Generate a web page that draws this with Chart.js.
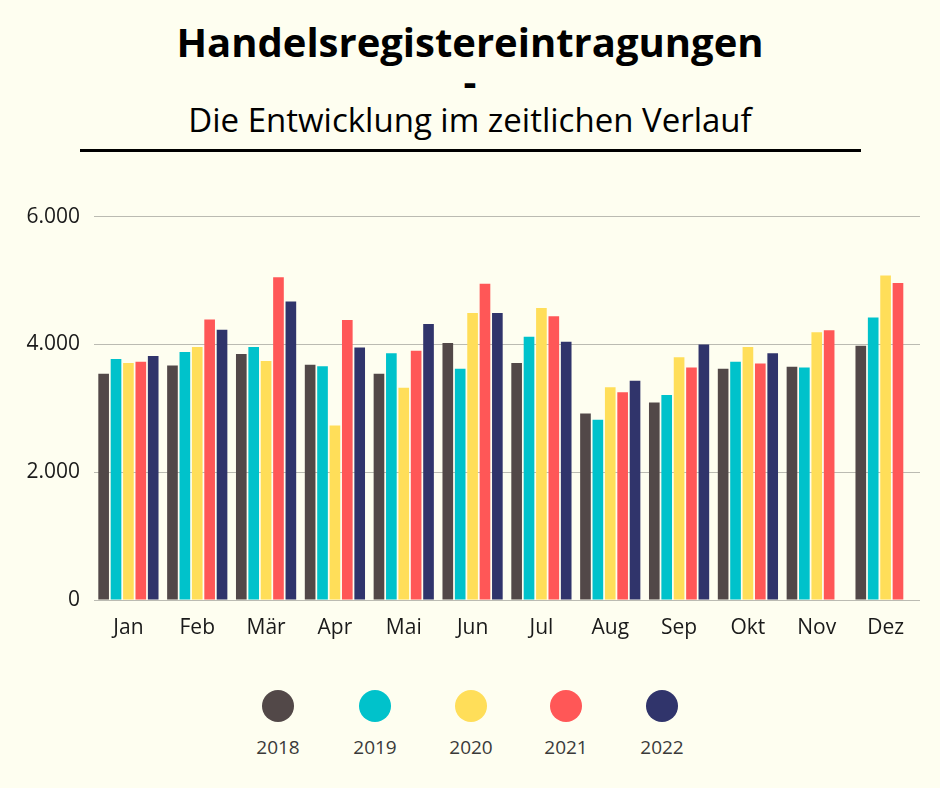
<!DOCTYPE html>
<html lang="de">
<head>
<meta charset="utf-8">
<title>Handelsregistereintragungen</title>
<script src="https://cdn.jsdelivr.net/npm/chart.js@4.4.1/dist/chart.umd.min.js"></script>
<style>
    body {
        margin: 0;
        background: #fefef0;
        font-family: "Open Sans", sans-serif;
        width: 940px;
        height: 788px;
        position: relative;
        overflow: hidden;
    }
    #head {
        position: absolute;
        left: 0;
        top: 0;
        width: 940px;
        text-align: center;
        color: #000;
    }
    #head .t1 {
        position: absolute;
        left: 0; width: 940px;
        top: 17px;
        font-size: 40px;
        font-weight: 700;
        line-height: 50px;
    }
    #head .t2 {
        position: absolute;
        left: 0; width: 940px;
        top: 61px;
        font-size: 40px;
        font-weight: 700;
        line-height: 40px;
    }
    #head .t3 {
        position: absolute;
        left: 0; width: 940px;
        top: 99px;
        font-size: 33px;
        line-height: 42px;
    }
    #rule {
        position: absolute;
        left: 80px;
        top: 149px;
        width: 781px;
        height: 3px;
        background: #000;
    }
    #wrap {
        position: absolute;
        left: 0;
        top: 190px;
        width: 940px;
        height: 470px;
    }
    #legend .item {
        position: absolute;
        width: 80px;
        text-align: center;
    }
    #legend .dot {
        width: 32px;
        height: 32px;
        border-radius: 50%;
        margin: 0 auto;
    }
    #legend .lbl {
        margin-top: 13px;
        font-size: 19px;
        color: #3a3a3a;
        line-height: 24px;
    }
</style>
</head>
<body>
<div id="head">
    <div class="t1">Handelsregistereintragungen</div>
    <div class="t2">-</div>
    <div class="t3">Die Entwicklung im zeitlichen Verlauf</div>
</div>
<div id="rule"></div>
<div id="wrap"><canvas id="regChart"></canvas></div>
<div id="legend"></div>

<script>
const months = ['Jan', 'Feb', 'Mär', 'Apr', 'Mai', 'Jun', 'Jul', 'Aug', 'Sep', 'Okt', 'Nov', 'Dez'];
const years = ['2018', '2019', '2020', '2021', '2022'];
const colors = ['#524848', '#00c2cb', '#ffde59', '#ff5757', '#30346b'];

const values2018 = [3540, 3670, 3850, 3680, 3540, 4020, 3710, 2920, 3090, 3620, 3650, 3980];
const values2019 = [3770, 3880, 3960, 3660, 3860, 3620, 4120, 2820, 3210, 3730, 3640, 4420];
const values2020 = [3710, 3960, 3740, 2730, 3320, 4490, 4570, 3330, 3800, 3960, 4190, 5080];
const values2021 = [3730, 4390, 5050, 4380, 3900, 4950, 4440, 3250, 3640, 3700, 4220, 4960];
const values2022 = [3820, 4230, 4670, 3950, 4320, 4490, 4040, 3430, 4000, 3860, null, null];

const yTicks = [0, 2000, 4000, 6000];

const allValues = [values2018, values2019, values2020, values2021, values2022];

const ctx = document.getElementById('regChart').getContext('2d');
const regChart = new Chart(ctx, {
    type: 'bar',
    data: {
        labels: months,
        datasets: years.map((y, i) => ({
            label: y,
            data: allValues[i],
            backgroundColor: colors[i],
            borderWidth: 0,
            barPercentage: 0.86,
            categoryPercentage: 0.9
        }))
    },
    options: {
        responsive: true,
        maintainAspectRatio: false,
        animation: false,
        locale: 'de-DE',
        layout: {
            padding: { top: 26, right: 20, bottom: 0, left: 0 }
        },
        plugins: {
            legend: { display: false },
            tooltip: { enabled: false }
        },
        scales: {
            x: {
                afterFit: scale => { scale.height = 60; },
                grid: { display: false, drawTicks: false },
                border: { display: false },
                ticks: {
                    color: '#1a1a1a',
                    font: { family: 'Open Sans', size: 21 },
                    padding: 15,
                    maxRotation: 0
                }
            },
            y: {
                min: yTicks[0],
                max: yTicks[yTicks.length - 1],
                afterFit: scale => { scale.width = 94; },
                afterBuildTicks: scale => {
                    scale.ticks = yTicks.map(v => ({ value: v }));
                },
                grid: {
                    color: '#bbbbb2',
                    lineWidth: 1,
                    drawTicks: false
                },
                border: { display: false },
                ticks: {
                    color: '#1a1a1a',
                    font: { family: 'Open Sans', size: 21 },
                    padding: 14,
                    callback: v => v.toLocaleString('de-DE')
                }
            }
        }
    }
});

// legend with dots above the year labels
const legend = document.getElementById('legend');
const legendX = [278, 375, 471, 566, 662];
years.forEach((y, i) => {
    const item = document.createElement('div');
    item.className = 'item';
    item.style.left = (legendX[i] - 40) + 'px';
    item.style.top = '690px';
    item.innerHTML = '<div class="dot" style="background:' + colors[i] + '"></div><div class="lbl">' + y + '</div>';
    legend.appendChild(item);
});
</script>
</body>
</html>
